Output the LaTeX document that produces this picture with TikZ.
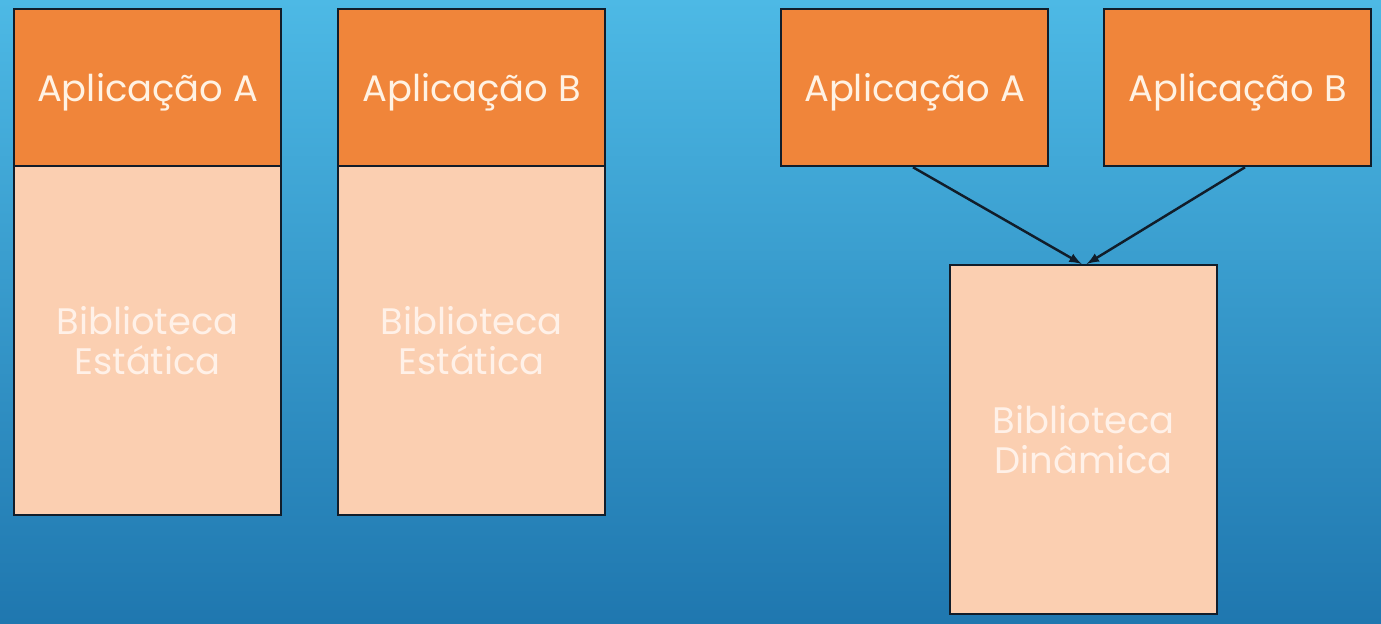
\documentclass[tikz,border=0pt]{standalone}
\usepackage{fontspec}
\setmainfont{Poppins}
\definecolor{skytop}{HTML}{4DB9E5}
\definecolor{skybot}{HTML}{1F77AF}
\definecolor{appfill}{HTML}{F0853A}
\definecolor{libfill}{HTML}{FBCFB1}
\definecolor{edge}{HTML}{111D2A}
\definecolor{apptext}{HTML}{FFF2E3}
\definecolor{libtext}{HTML}{FFF1E8}
\begin{document}
\begin{tikzpicture}[x=0.02cm,y=-0.02cm,
    appbox/.style={draw=edge,line width=1.3pt,fill=appfill,text=apptext,
        minimum width=5.34cm,minimum height=3.14cm,inner sep=0pt,text depth=0pt,
        font=\fontsize{21}{25}\selectfont},
    libbox/.style={draw=edge,line width=1.3pt,fill=libfill,text=libtext,
        minimum width=5.34cm,minimum height=6.98cm,inner sep=0pt,align=center,
        font=\fontsize{21}{22.7}\selectfont}]
    %% background
    \shade[top color=skytop,bottom color=skybot] (0,0) rectangle (1381,624);
    \useasboundingbox (0,0) rectangle (1381,624);
    %% static, left
    \node[libbox,anchor=north west] (libA) at (13,165) {Biblioteca\\Estática};
    \node[appbox,anchor=north west] (appA) at (13,8) {Aplicação A};
    %% static, right
    \node[libbox,anchor=north west] (libB) at (337,165) {Biblioteca\\Estática};
    \node[appbox,anchor=north west] (appB) at (337,8) {Aplicação B};
    %% dynamic
    \node[appbox,anchor=north west] (dynA) at (780,8) {Aplicação A};
    \node[appbox,anchor=north west] (dynB) at (1103,8) {Aplicação B};
    \node[libbox,anchor=north west] (libD) at (949,264) {Biblioteca\\Dinâmica};
    %% links
    \draw[edge,line width=1.4pt,-latex] (dynA.south west) ++(133,0) -- ([xshift=-0.04cm]libD.north);
    \draw[edge,line width=1.4pt,-latex] (dynB.south west) ++(142,0) -- ([xshift=0.06cm]libD.north);
\end{tikzpicture}
\end{document}
